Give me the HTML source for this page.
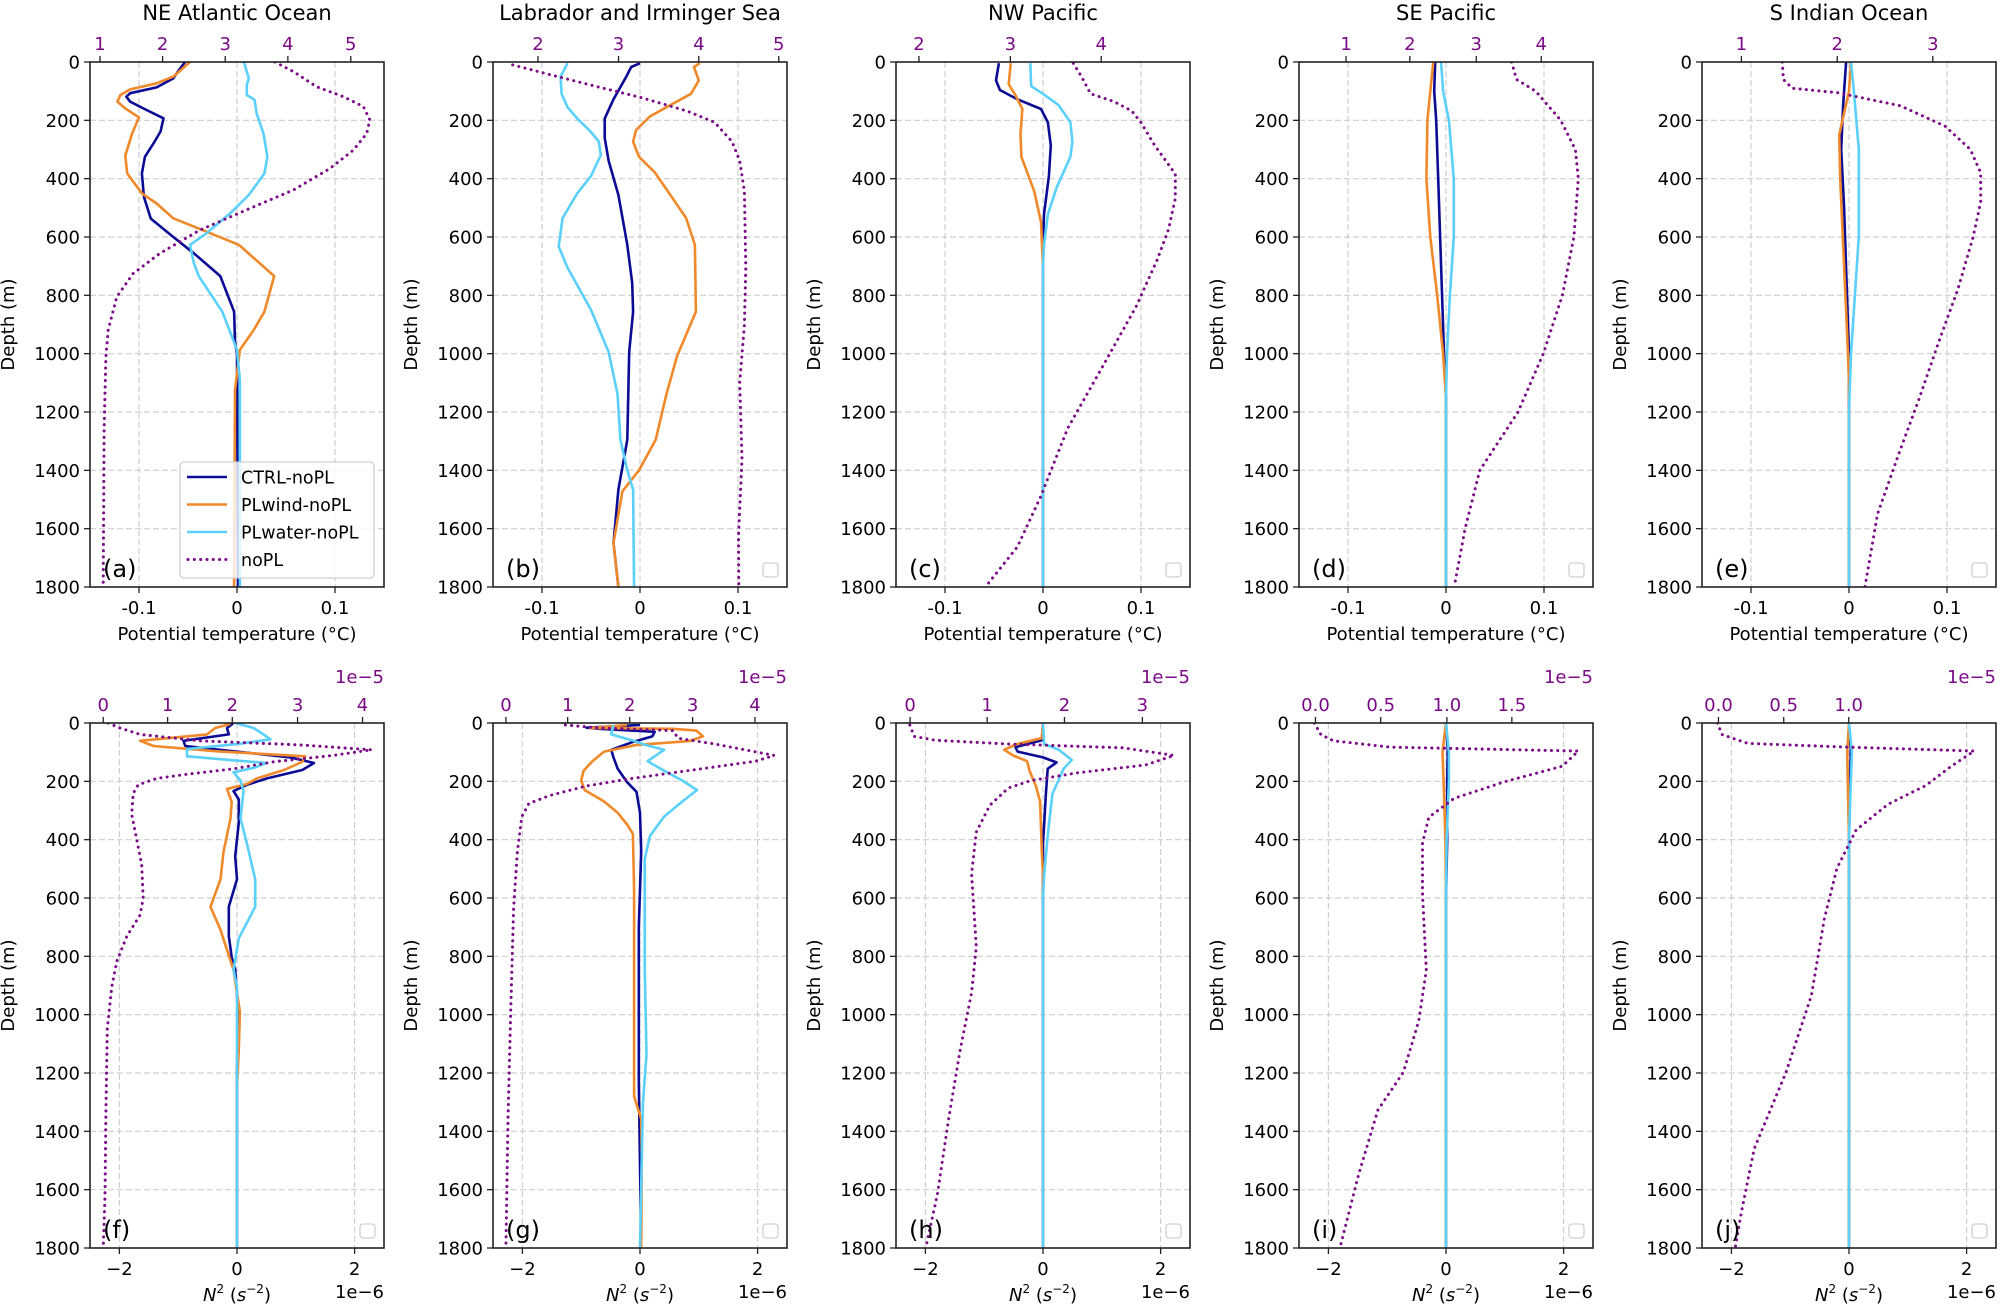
<!DOCTYPE html>
<html><head><meta charset="utf-8"><style>
html,body{margin:0;padding:0;background:#fff;}
svg{display:block;font-family:"DejaVu Sans","Liberation Sans",sans-serif;}
</style></head><body>
<svg id="s" width="2000" height="1309" viewBox="0 0 2000 1309" xmlns="http://www.w3.org/2000/svg"></svg>
<script>
const S=document.getElementById('s');
let h='';
const NAVY='#0b0b96',ORG='#f0892a',LB='#5ad0fa',PUR='#7b0a86';
const W=294,H=525;
function PX(i){return 90+403*i;}
function PY(r){return r==0?62:723;}
const P=[
{t:'NE Atlantic Ocean',lab:'(a)',top:[[0.034,'1'],[0.247,'2'],[0.46,'3'],[0.673,'4'],[0.887,'5']],
 c:[[-0.053,0],[-0.058,22],[-0.065,56],[-0.082,87],[-0.109,107],[-0.113,119],[-0.109,136],[-0.092,165],[-0.075,193],[-0.078,238],[-0.085,278],[-0.094,325],[-0.097,382],[-0.095,462],[-0.088,537],[-0.065,600],[-0.044,656],[-0.017,734],[-0.003,856],[-0.002,960],[0,1000],[0.001,1800]],
 w:[[-0.048,0],[-0.065,50],[-0.082,73],[-0.109,94],[-0.119,113],[-0.122,136],[-0.114,159],[-0.1,190],[-0.107,245],[-0.114,321],[-0.112,382],[-0.097,450],[-0.082,485],[-0.065,536],[-0.031,582],[0.002,627],[0.038,734],[0.028,856],[0.017,919],[0.003,987],[-0.002,1125],[-0.003,1800]],
 a:[[0.007,0],[0.012,56],[0.010,79],[0.010,113],[0.018,130],[0.020,176],[0.027,245],[0.031,325],[0.028,382],[0.012,456],[-0.007,519],[-0.031,587],[-0.048,627],[-0.044,690],[-0.039,734],[-0.015,856],[0,987],[0.003,1090],[0.003,1800]],
 n:[[0.629,0],[0.692,33],[0.771,85],[0.862,119],[0.930,153],[0.952,199],[0.941,245],[0.896,302],[0.816,365],[0.692,439],[0.544,502],[0.374,576],[0.238,656],[0.147,725],[0.091,805],[0.062,919],[0.054,1010],[0.048,1262],[0.045,1800]]},
{t:'Labrador and Irminger Sea',lab:'(b)',top:[[0.153,'2'],[0.427,'3'],[0.70,'4'],[0.972,'5']],
 c:[[0,4],[-0.009,17],[-0.014,50],[-0.027,128],[-0.036,194],[-0.036,260],[-0.032,338],[-0.022,456],[-0.013,627],[-0.008,758],[-0.007,856],[-0.011,994],[-0.013,1295],[-0.022,1466],[-0.027,1649],[-0.022,1800]],
 w:[[0.061,4],[0.055,17],[0.06,63],[0.052,109],[0.027,155],[0.01,187],[-0.004,233],[-0.007,273],[-0.001,325],[0.015,378],[0.031,456],[0.047,535],[0.056,627],[0.057,856],[0.038,1007],[0.027,1138],[0.016,1295],[-0.001,1400],[-0.018,1472],[-0.027,1649],[-0.022,1800]],
 a:[[-0.074,4],[-0.081,50],[-0.08,109],[-0.074,155],[-0.064,194],[-0.05,240],[-0.042,273],[-0.04,319],[-0.05,391],[-0.064,450],[-0.079,535],[-0.083,633],[-0.074,705],[-0.05,850],[-0.032,994],[-0.023,1138],[-0.02,1295],[-0.013,1400],[-0.007,1466],[-0.006,1800]],
 n:[[0.067,10],[0.192,43],[0.348,83],[0.504,122],[0.66,168],[0.754,207],[0.813,273],[0.839,338],[0.855,443],[0.86,705],[0.855,902],[0.839,1099],[0.847,1361],[0.835,1623],[0.836,1800]]},
{t:'NW Pacific',lab:'(c)',top:[[0.078,'2'],[0.389,'3'],[0.698,'4']],
 c:[[-0.045,4],[-0.048,63],[-0.044,96],[-0.026,128],[-0.002,161],[0.005,207],[0.008,286],[0.006,391],[0.001,522],[0,627],[0,1800]],
 w:[[-0.033,4],[-0.035,76],[-0.028,115],[-0.021,161],[-0.023,246],[-0.022,325],[-0.009,443],[-0.002,548],[-0.001,627],[0,700],[0,1800]],
 a:[[-0.013,4],[-0.012,83],[0,109],[0.016,148],[0.028,207],[0.03,273],[0.028,325],[0.014,430],[0.005,522],[0.001,627],[0,700],[0,1800]],
 n:[[0.603,4],[0.631,50],[0.662,109],[0.74,135],[0.802,168],[0.833,207],[0.88,286],[0.95,384],[0.95,469],[0.927,574],[0.888,679],[0.818,836],[0.709,1033],[0.584,1256],[0.491,1492],[0.413,1662],[0.304,1800]]},
{t:'SE Pacific',lab:'(d)',top:[[0.16,'1'],[0.377,'2'],[0.603,'3'],[0.824,'4']],
 c:[[-0.011,0],[-0.012,100],[-0.01,200],[-0.008,400],[-0.005,700],[-0.002,1000],[0,1150],[0,1800]],
 w:[[-0.013,0],[-0.016,100],[-0.019,200],[-0.02,400],[-0.016,600],[-0.009,800],[-0.003,1000],[0,1150],[0,1800]],
 a:[[-0.005,0],[-0.003,100],[0.003,200],[0.008,400],[0.008,600],[0.004,800],[0.001,1000],[0,1150],[0,1800]],
 n:[[0.723,0],[0.74,60],[0.805,100],[0.89,200],[0.94,300],[0.95,400],[0.935,600],[0.896,800],[0.831,1000],[0.745,1200],[0.615,1400],[0.565,1600],[0.528,1800]]},
{t:'S Indian Ocean',lab:'(e)',top:[[0.134,'1'],[0.46,'2'],[0.785,'3']],
 c:[[-0.003,0],[-0.006,150],[-0.008,300],[-0.005,500],[-0.002,800],[0,1000],[0,1800]],
 w:[[0.002,0],[0,100],[-0.01,250],[-0.009,400],[-0.005,700],[-0.001,1000],[0,1100],[0,1800]],
 a:[[0.002,0],[0.005,100],[0.01,300],[0.01,600],[0.006,800],[0.002,1000],[0,1200],[0,1800]],
 n:[[0.273,0],[0.277,60],[0.307,90],[0.459,105],[0.675,150],[0.827,220],[0.913,300],[0.948,380],[0.948,480],[0.922,600],[0.87,780],[0.805,960],[0.74,1150],[0.667,1350],[0.597,1550],[0.554,1800]]},
{lab:'(f)',top:[[0.045,'0'],[0.264,'1'],[0.484,'2'],[0.706,'3'],[0.927,'4']],
 c:[[-0.06,0],[-0.17,17],[-0.14,39],[-0.91,61],[-0.88,79],[-0.06,97],[0.91,118],[1.31,137],[1.11,161],[0.51,190],[0.17,212],[-0.06,233],[0.03,262],[0.03,341],[-0.03,457],[0,536],[-0.14,630],[-0.14,731],[-0.09,803],[-0.03,846],[0.02,990],[0,1192],[0,1800]],
 w:[[-0.11,3],[-0.37,17],[-0.51,39],[-1.65,61],[-1.42,79],[-0.34,97],[1.16,114],[1.11,133],[0.8,161],[0.34,190],[0.17,209],[-0.17,226],[-0.09,270],[-0.11,327],[-0.23,442],[-0.28,536],[-0.45,630],[-0.28,709],[-0.06,846],[0.05,990],[0.03,1120],[0,1250],[0,1800]],
 a:[[-0.03,0],[0.28,17],[0.45,39],[0.57,56],[0.06,71],[-0.85,89],[-0.85,114],[-0.06,128],[0.51,137],[0.28,154],[-0.06,169],[0.06,197],[0.11,233],[0.06,327],[0.17,414],[0.31,536],[0.31,630],[0.03,738],[-0.06,846],[0,904],[0,1800]],
 n:[[0.062,0],[0.102,17],[0.17,39],[0.374,61],[0.714,75],[0.958,92],[0.828,111],[0.624,133],[0.488,157],[0.329,176],[0.227,190],[0.164,212],[0.147,241],[0.142,313],[0.159,399],[0.176,486],[0.181,601],[0.17,659],[0.125,731],[0.091,817],[0.074,904],[0.059,1048],[0.054,1336],[0.051,1624],[0.045,1800]]},
{lab:'(g)',top:[[0.044,'0'],[0.254,'1'],[0.465,'2'],[0.679,'3'],[0.891,'4']],
 c:[[0,7],[-0.91,16],[-0.69,20],[0.25,30],[0.21,46],[-0.14,66],[-0.49,92],[-0.45,118],[-0.38,157],[-0.22,203],[-0.06,236],[0,308],[0.02,440],[-0.02,702],[-0.02,1227],[0.02,1800]],
 w:[[-0.22,7],[-0.85,17],[0.56,20],[0.96,26],[1.07,46],[0.84,62],[-0.06,75],[-0.61,98],[-0.81,131],[-0.96,164],[-1.0,197],[-0.94,230],[-0.61,269],[-0.38,308],[-0.22,348],[-0.12,380],[-0.1,571],[-0.1,1096],[-0.1,1280],[0.02,1358],[0.03,1476],[0.02,1800]],
 a:[[-0.45,7],[-0.49,39],[-0.14,59],[0.09,75],[0.41,92],[0.13,131],[0.41,164],[0.72,197],[0.97,230],[0.72,269],[0.41,321],[0.17,387],[0.08,466],[0.08,833],[0.11,1135],[0.05,1305],[0,1800]],
 n:[[0.246,7],[0.363,17],[0.613,26],[0.629,52],[0.754,72],[0.956,111],[0.894,131],[0.66,164],[0.473,190],[0.317,216],[0.192,249],[0.122,276],[0.098,321],[0.083,440],[0.07,636],[0.061,964],[0.051,1358],[0.044,1800]]},
{lab:'(h)',top:[[0.048,'0'],[0.31,'1'],[0.573,'2'],[0.838,'3']],
 c:[[0,0],[-0.02,59],[-0.47,83],[-0.43,98],[0,118],[0.23,135],[0.08,157],[0.05,243],[0,413],[0,1800]],
 w:[[0,0],[-0.02,52],[-0.44,72],[-0.66,92],[-0.51,111],[-0.27,131],[-0.23,164],[-0.12,216],[-0.05,269],[-0.02,440],[0,520],[0,1800]],
 a:[[0,0],[0.02,72],[0.27,92],[0.49,127],[0.35,157],[0.16,243],[0.08,387],[0.02,518],[0,600],[0,1800]],
 n:[[0.047,7],[0.062,46],[0.132,59],[0.382,72],[0.771,85],[0.946,111],[0.849,144],[0.615,171],[0.46,197],[0.382,223],[0.319,282],[0.273,374],[0.257,518],[0.273,767],[0.257,925],[0.218,1122],[0.179,1358],[0.14,1620],[0.101,1800]]},
{lab:'(i)',top:[[0.056,'0.0'],[0.278,'0.5'],[0.503,'1.0'],[0.724,'1.5']],
 c:[[0,0],[0.03,90],[0.02,200],[0.02,400],[0,600],[0,1800]],
 w:[[0,0],[-0.06,100],[-0.04,200],[-0.01,400],[0,600],[0,1800]],
 a:[[0,0],[0.05,100],[0.05,200],[0.01,400],[0,600],[0,1800]],
 n:[[0.052,0],[0.075,40],[0.117,61],[0.312,83],[0.95,96],[0.896,148],[0.701,201],[0.528,258],[0.442,323],[0.42,411],[0.42,585],[0.433,848],[0.407,1022],[0.355,1197],[0.268,1328],[0.203,1547],[0.139,1800]]},
{lab:'(j)',top:[[0.056,'0.0'],[0.278,'0.5'],[0.499,'1.0']],
 c:[[0,0],[0.03,90],[0.02,200],[0,400],[0,1800]],
 w:[[0,0],[-0.03,100],[-0.02,200],[0,400],[0,1800]],
 a:[[0,0],[0.05,100],[0.03,200],[0,400],[0,1800]],
 n:[[0.052,0],[0.069,40],[0.156,70],[0.502,83],[0.926,96],[0.848,148],[0.762,214],[0.632,279],[0.524,367],[0.459,498],[0.416,672],[0.372,934],[0.286,1197],[0.178,1459],[0.134,1677],[0.113,1800]]}
];
function line(pts,col,dash,w){
  return `<polyline points="${pts.map(p=>p[0].toFixed(1)+','+p[1].toFixed(1)).join(' ')}" fill="none" stroke="${col}" stroke-width="${w||2.6}" stroke-linejoin="round" ${dash?`stroke-dasharray="${dash}" stroke-linecap="round"`:''}/>`;
}
P.forEach((p,k)=>{
  const r=k<5?0:1,i=k%5,x0=PX(i),y0=PY(r);
  const vx=r==0?(v=>x0+(v+0.15)/0.3*W):(v=>x0+(v+2.5)/5*W);
  const fy=d=>y0+d/1800*H;
  h+=`<clipPath id="c${k}"><rect x="${x0}" y="${y0}" width="${W}" height="${H}"/></clipPath>`;
  const xt=r==0?[[-0.1,'-0.1'],[0,'0'],[0.1,'0.1']]:[[-2,'\u22122'],[0,'0'],[2,'2']];
  xt.forEach(t=>{const x=vx(t[0]);h+=`<line x1="${x}" y1="${y0}" x2="${x}" y2="${y0+H}" stroke="#cfcfcf" stroke-width="1.2" stroke-dasharray="6,3"/>`;
    h+=`<line x1="${x}" y1="${y0+H}" x2="${x}" y2="${y0+H+6}" stroke="#222" stroke-width="1.3"/>`;
    h+=`<text x="${x}" y="${y0+H+27}" font-size="18" text-anchor="middle">${t[1]}</text>`;});
  for(let d=0;d<=1800;d+=200){const y=fy(d);
    if(d>0&&d<1800)h+=`<line x1="${x0}" y1="${y}" x2="${x0+W}" y2="${y}" stroke="#cfcfcf" stroke-width="1.2" stroke-dasharray="6,3"/>`;
    h+=`<line x1="${x0-6}" y1="${y}" x2="${x0}" y2="${y}" stroke="#222" stroke-width="1.3"/>`;
    h+=`<text x="${x0-10}" y="${y+6.5}" font-size="18" text-anchor="end">${d}</text>`;}
  p.top.forEach(t=>{const x=x0+t[0]*W;h+=`<line x1="${x}" y1="${y0-6}" x2="${x}" y2="${y0}" stroke="#222" stroke-width="1.3"/>`;
    h+=`<text x="${x}" y="${y0-12}" font-size="18" fill="${PUR}" text-anchor="middle">${t[1]}</text>`;});
  h+=`<g clip-path="url(#c${k})">`;
  h+=line(p.c.map(q=>[vx(q[0]),fy(q[1])]),NAVY);
  h+=line(p.w.map(q=>[vx(q[0]),fy(q[1])]),ORG);
  h+=line(p.a.map(q=>[vx(q[0]),fy(q[1])]),LB);
  h+=line(p.n.map(q=>[x0+q[0]*W,fy(q[1])]),PUR,'0.1,6.2',3);
  h+=`</g>`;
  h+=`<rect x="${x0}" y="${y0}" width="${W}" height="${H}" fill="none" stroke="#222" stroke-width="1.6"/>`;
  h+=`<text x="${x0+13}" y="${y0+H-10}" font-size="24">${p.lab}</text>`;
  if(k!==0)h+=`<rect x="${x0+W-24}" y="${y0+H-24}" width="15" height="14" rx="3" fill="#fff" stroke="#d0d0d0" stroke-width="1.3"/>`;
  h+=`<text transform="translate(${x0-76},${y0+H/2}) rotate(-90)" font-size="18" text-anchor="middle">Depth (m)</text>`;
  if(r==0){
    h+=`<text x="${x0+W/2}" y="${y0-42}" font-size="21" text-anchor="middle">${p.t}</text>`;
    h+=`<text x="${x0+W/2}" y="${y0+H+53}" font-size="18" text-anchor="middle">Potential temperature (°C)</text>`;
  }else{
    h+=`<text x="${x0+W}" y="${y0-40}" font-size="18" fill="${PUR}" text-anchor="end">1e\u22125</text>`;
    h+=`<text x="${x0+W}" y="${y0+H+50}" font-size="18" text-anchor="end">1e\u22126</text>`;
    h+=`<text x="${x0+W/2}" y="${y0+H+53}" font-size="18" text-anchor="middle"><tspan font-style="italic">N</tspan><tspan font-size="12" dy="-8">2</tspan><tspan dy="8"> (</tspan><tspan font-style="italic">s</tspan><tspan font-size="12" dy="-8">\u22122</tspan><tspan dy="8">)</tspan></text>`;
  }
});
h+=`<rect x="180" y="462" width="194" height="116" rx="4" fill="rgba(255,255,255,0.8)" stroke="#d0d0d0" stroke-width="1.3"/>`;
[[NAVY,'CTRL-noPL',0],[ORG,'PLwind-noPL',0],[LB,'PLwater-noPL',0],[PUR,'noPL',1]].forEach((e,j)=>{
  const y=477+j*27.5;
  h+=e[2]?`<line x1="188" y1="${y}" x2="227" y2="${y}" stroke="${PUR}" stroke-width="3" stroke-dasharray="0.1,6.2" stroke-linecap="round"/>`:`<line x1="187" y1="${y}" x2="227" y2="${y}" stroke="${e[0]}" stroke-width="2.6"/>`;
  h+=`<text x="241" y="${y+6.5}" font-size="17.5">${e[1]}</text>`;
});
S.innerHTML=h;
</script>
</body></html>
